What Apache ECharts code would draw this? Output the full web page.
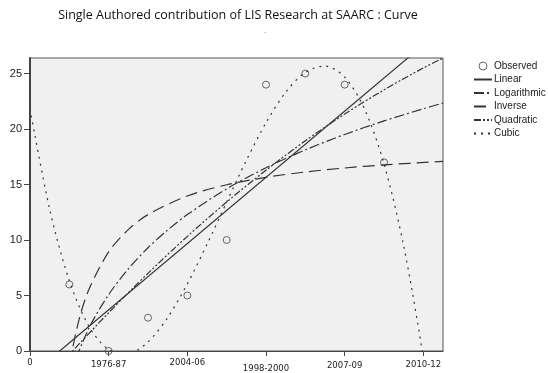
<!DOCTYPE html>
<html>
<head>
<meta charset="utf-8">
<script src="https://cdn.jsdelivr.net/npm/echarts@6/dist/echarts.min.js"></script>
<style>
  html, body { margin: 0; padding: 0; background: #fff; }
  #chart { width: 548px; height: 373px; }
</style>
</head>
<body>
<div id="chart"></div>
<script>
// observed values (x = period index)
const obsX = [1, 2, 3, 4, 5, 6, 7, 8, 9];
const obsY = [6, 0, 3, 5, 10, 24, 25, 24, 17];

// x tick labels at 0, 2, 4, 6, 8, 10
const xTickValues = [0, 2, 4, 6, 8, 10];
const xTickLabels = ["0", "1976-87", "2004-06", "1998-2000", "2007-09", "2010-12"];

// fitted curves, values
const linearX = [0, 10.5];
const linearY = [-2.25, 29.07];

const logX = [1, 1.5, 2, 2.5, 3, 3.5, 4, 5, 6, 7, 8, 9, 10, 10.5];
const logY = [-2.14, 2.08, 5.08, 7.4, 9.3, 10.9, 12.29, 14.61, 16.51, 18.12, 19.51, 20.73, 21.83, 22.34];

const invX = [1, 1.25, 1.5, 2, 2.5, 3, 4, 5, 6, 7, 8, 9, 10.5];
const invY = [-1.16, 2.87, 5.56, 8.93, 10.94, 12.29, 13.97, 14.98, 15.65, 16.13, 16.49, 16.77, 17.09];

const quadX = [0, 1, 2, 3, 4, 5, 6, 7, 8, 9, 10, 10.5];
const quadY = [-4.34, -0.33, 3.45, 7.0, 10.33, 13.42, 16.29, 18.94, 21.35, 23.53, 25.5, 26.39];

const cubicX = [0, 0.5, 1, 1.5, 2, 2.5, 3, 3.5, 4, 4.5, 5, 5.5, 6, 6.5, 7, 7.5, 8, 8.5, 9, 9.5, 10, 10.5];
const cubicY = [21.83, 12.77, 6.33, 2.21, 0.12, -0.25, 0.82, 3.01, 6.05, 9.61, 13.42, 17.17, 20.57, 23.31, 25.12, 25.67, 24.68, 21.85, 16.87, 9.47, -0.67, -13.85];

const zip = (xs, ys) => xs.map((x, i) => [x, ys[i]]);

const lineColor = "#333";
const fitLine = (name, xs, ys, type) => ({
  name: name,
  type: "line",
  data: zip(xs, ys),
  symbol: "none",
  smooth: xs.length > 2 ? 0.3 : false,
  clip: true,
  silent: true,
  lineStyle: { color: lineColor, width: 1.2, type: type },
  itemStyle: { color: lineColor },
});

// legend entry for a fitted line: hide the symbol, keep the line
const lineLegend = (name) => ({ name: name, itemStyle: { opacity: 0 } });

// hollow ring for observed points
const ringStyle = { color: "rgba(0,0,0,0)", borderColor: "#444", borderWidth: 1 };

const chart = echarts.init(document.getElementById("chart"));

// x labels are staggered vertically in the original
const xLabelStyle = ["a", "b", "a", "f", "c", "b"];

chart.setOption({
  animation: false,
  title: {
    text: "Single Authored contribution of LIS Research at SAARC : Curve",
    left: 238,
    textAlign: "center",
    top: 9,
    padding: 0,
    textStyle: { fontFamily: "Open Sans", fontSize: 12.5, fontWeight: "normal", color: "#111" },
  },
  graphic: [
    { type: "text", left: 264, top: 26, style: { text: ".", fill: "#c87a3a", fontSize: 9 } },
  ],
  grid: {
    left: 30,
    right: 105,
    top: 58,
    bottom: 21,
    show: true,
    backgroundColor: "#f0f0f0",
    borderColor: "#555",
    borderWidth: 1,
  },
  legend: {
    orient: "vertical",
    left: 473,
    top: 61,
    padding: 0,
    itemWidth: 18,
    itemHeight: 8,
    itemGap: 3.5,
    textStyle: { fontFamily: "Liberation Sans", fontSize: 10, color: "#222", padding: [0, 0, 0, -3] },
    data: [
      { name: "Observed", icon: "circle", itemStyle: { color: "rgba(0,0,0,0)", borderColor: "#444", borderWidth: 1 } },
      lineLegend("Linear"),
      lineLegend("Logarithmic"),
      lineLegend("Inverse"),
      lineLegend("Quadratic"),
      lineLegend("Cubic"),
    ],
  },
  xAxis: {
    type: "value",
    min: 0,
    max: 10.5,
    interval: 2,
    axisLine: { show: true, lineStyle: { color: "#444", width: 1 } },
    axisTick: { show: true, length: 5, lineStyle: { color: "#444" } },
    splitLine: { show: false },
    axisLabel: {
      margin: 7,
      showMaxLabel: false,
      fontFamily: "DejaVu Sans",
      fontSize: 8.5,
      color: "#222",
      formatter: (v) => {
        const i = xTickValues.indexOf(v);
        return i < 0 ? "" : "{" + xLabelStyle[i] + "|" + xTickLabels[i] + "}";
      },
      rich: {
        a: { padding: [0, 0, 0, 0] },
        b: { padding: [2, 0, 0, 0] },
        c: { padding: [3, 0, 0, 0] },
        f: { padding: [6, 0, 0, 0] },
      },
    },
  },
  yAxis: {
    type: "value",
    min: 0,
    max: 26.4,
    interval: 5,
    axisLine: { show: true, lineStyle: { color: "#444", width: 2 } },
    axisTick: { show: true, length: 6, lineStyle: { color: "#444" } },
    splitLine: { show: false },
    axisLabel: {
      margin: 8,
      showMaxLabel: false,
      fontFamily: "Liberation Sans",
      fontSize: 11,
      color: "#222",
      formatter: (v) => (v % 5 === 0 ? String(v) : ""),
    },
  },
  series: [
    {
      name: "Observed",
      type: "scatter",
      data: zip(obsX, obsY),
      symbol: "circle",
      symbolSize: 7,
      clip: false,
      itemStyle: ringStyle,
    },
    fitLine("Linear", linearX, linearY, "solid"),
    fitLine("Logarithmic", logX, logY, [10, 3, 2, 3]),
    fitLine("Inverse", invX, invY, [12, 6]),
    fitLine("Quadratic", quadX, quadY, [7, 2, 2, 2, 2, 2]),
    fitLine("Cubic", cubicX, cubicY, [2, 5]),
  ],
});
</script>
</body>
</html>
